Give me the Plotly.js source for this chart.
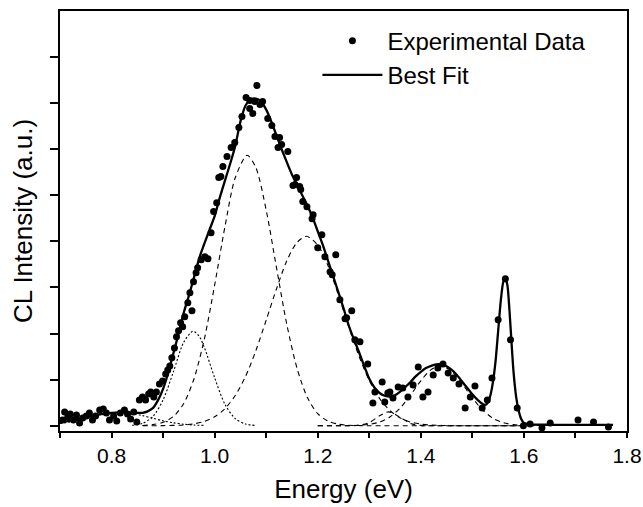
<!DOCTYPE html>
<html>
<head>
<meta charset="utf-8">
<script src="https://cdn.plot.ly/plotly-3.0.1.min.js"></script>
<style>html,body{margin:0;padding:0;background:#fff;}#chart{width:643px;height:507px;}</style>
</head>
<body>
<div id="chart"></div>
<script>
// Experimental data (energy in eV, CL intensity in arbitrary units)
const dataX = [0.705,0.709,0.715,0.720,0.726,0.732,0.738,0.744,0.751,0.757,0.763,0.769,0.777,0.784,0.790,0.796,0.804,0.810,0.817,0.825,0.831,0.837,0.843,0.849,0.854,0.860,0.866,0.872,0.876,0.882,0.887,0.893,0.899,0.905,0.909,0.913,0.917,0.922,0.926,0.930,0.934,0.938,0.942,0.948,0.952,0.956,0.959,0.964,0.967,0.974,0.981,0.987,0.993,0.998,1.004,1.008,1.012,1.016,1.024,1.032,1.039,1.047,1.053,1.061,1.068,1.068,1.074,1.078,1.082,1.088,1.093,1.103,1.111,1.117,1.123,1.126,1.130,1.142,1.152,1.156,1.159,1.165,1.167,1.171,1.179,1.189,1.191,1.200,1.208,1.214,1.224,1.228,1.235,1.243,1.253,1.256,1.266,1.272,1.282,1.297,1.307,1.311,1.325,1.330,1.336,1.340,1.346,1.356,1.365,1.375,1.385,1.395,1.404,1.414,1.424,1.433,1.443,1.453,1.463,1.474,1.486,1.496,1.505,1.519,1.529,1.538,1.550,1.564,1.574,1.587,1.599,1.612,1.635,1.651,1.705,1.735,1.764];
const dataY = [0.124,0.298,0.189,0.254,0.124,0.233,0.059,0.167,0.211,0.276,0.124,0.211,0.341,0.363,0.276,0.124,0.211,0.102,0.276,0.341,0.254,0.146,0.298,0.080,0.559,0.624,0.559,0.689,0.733,0.624,0.733,0.907,0.972,1.124,1.211,1.298,1.472,1.689,1.928,2.059,2.233,2.146,2.363,2.667,2.885,2.494,3.124,3.320,3.428,3.602,3.667,3.624,4.189,4.646,4.841,5.385,5.407,5.624,5.841,6.037,6.146,6.472,6.711,7.124,7.059,6.885,6.776,7.037,7.385,6.972,7.037,6.667,6.515,6.276,6.037,6.254,6.102,5.950,5.211,5.233,5.385,5.190,5.124,4.863,4.754,4.494,4.580,3.863,4.146,3.667,3.341,3.276,3.711,2.733,2.320,2.341,2.494,1.863,1.820,1.341,0.493,0.733,0.950,0.515,0.711,0.733,0.602,0.841,0.820,0.624,0.885,1.276,0.624,0.733,1.102,1.254,1.341,1.146,1.037,0.907,0.385,0.624,0.863,0.385,0.559,1.037,2.298,3.189,1.863,0.385,0.000,0.037,-0.050,0.059,0.124,0.080,-0.030];

// Best fit curve
const fitX = [0.70,0.72,0.74,0.76,0.78,0.80,0.82,0.84,0.86,0.87,0.88,0.89,0.90,0.91,0.92,0.93,0.94,0.95,0.96,0.97,0.98,0.99,1.00,1.01,1.02,1.03,1.04,1.05,1.06,1.07,1.08,1.09,1.10,1.11,1.12,1.13,1.14,1.15,1.16,1.17,1.18,1.19,1.20,1.21,1.22,1.23,1.24,1.25,1.26,1.27,1.28,1.29,1.30,1.31,1.32,1.33,1.34,1.35,1.36,1.37,1.38,1.39,1.40,1.41,1.42,1.43,1.44,1.45,1.46,1.47,1.48,1.49,1.50,1.51,1.52,1.525,1.53,1.535,1.54,1.545,1.55,1.555,1.56,1.564,1.568,1.572,1.576,1.58,1.585,1.59,1.595,1.60,1.61,1.65,1.70,1.773];
const fitY = [0.07,0.11,0.16,0.21,0.25,0.28,0.29,0.28,0.28,0.31,0.38,0.55,0.80,1.15,1.57,2.00,2.45,2.82,3.22,3.63,3.95,4.25,4.55,4.95,5.32,5.68,6.07,6.60,6.95,7.08,7.10,7.04,6.86,6.60,6.30,6.00,5.72,5.45,5.22,5.00,4.78,4.52,4.22,3.92,3.58,3.24,2.90,2.55,2.18,1.88,1.60,1.30,1.02,0.83,0.71,0.65,0.63,0.66,0.74,0.84,0.95,1.07,1.17,1.25,1.30,1.33,1.33,1.29,1.21,1.10,0.96,0.82,0.68,0.56,0.47,0.45,0.50,0.66,0.95,1.40,2.05,2.70,3.12,3.19,3.05,2.50,1.80,1.15,0.62,0.32,0.14,0.06,0.03,0.02,0.02,0.02];

// Fitted component peaks
const compAX = [0.70,0.72,0.74,0.76,0.78,0.80,0.815,0.84,0.86,0.88,0.90,0.92,0.94,0.96,0.98];
const compAY = [0.046,0.083,0.133,0.19,0.245,0.281,0.29,0.266,0.219,0.161,0.106,0.063,0.033,0.015,0.006];
const compBX = [0.84,0.86,0.88,0.90,0.92,0.94,0.958,0.97,0.98,1.00,1.02,1.04,1.06,1.08];
const compBY = [0.01,0.05,0.196,0.56,1.17,1.81,2.05,1.94,1.70,1.04,0.465,0.153,0.037,0.005];
const compCX = [0.86,0.88,0.90,0.92,0.94,0.96,0.98,1.00,1.02,1.04,1.063,1.08,1.10,1.12,1.14,1.16,1.18,1.20,1.22,1.24,1.26,1.30,1.40,1.50,1.60];
const compCY = [0.005,0.023,0.073,0.20,0.48,1.02,1.88,3.05,4.32,5.38,5.87,5.60,4.68,3.43,2.20,1.24,0.61,0.26,0.10,0.033,0.009,0,0,0,0];
const compDX = [0.86,0.90,0.94,0.96,0.98,1.00,1.02,1.04,1.06,1.08,1.10,1.12,1.14,1.16,1.178,1.20,1.22,1.24,1.26,1.28,1.30,1.32,1.34,1.36,1.38,1.40,1.42,1.46,1.50,1.55,1.60];
const compDY = [0,0.002,0.017,0.042,0.094,0.194,0.37,0.655,1.07,1.63,2.29,2.97,3.58,3.98,4.11,3.92,3.47,2.84,2.15,1.51,0.98,0.59,0.33,0.168,0.080,0.035,0.014,0.001,0,0,0];
const compEX = [1.20,1.26,1.28,1.30,1.32,1.338,1.36,1.38,1.40,1.42,1.50,1.60];
const compEY = [0,0.001,0.009,0.068,0.215,0.30,0.182,0.049,0.006,0,0,0];
const compFX = [1.20,1.26,1.30,1.32,1.34,1.36,1.38,1.40,1.42,1.438,1.46,1.48,1.50,1.52,1.54,1.56,1.58,1.60,1.62];
const compFY = [0,0.002,0.029,0.080,0.190,0.385,0.663,0.974,1.218,1.30,1.18,0.914,0.603,0.339,0.162,0.066,0.023,0.005,0];

const xTickVals = [0.7,0.8,0.9,1.0,1.1,1.2,1.3,1.4,1.5,1.6,1.7,1.8];
const xTickText = ['','0.8','','1.0','','1.2','','1.4','','1.6','','1.8'];
const yTickVals = [0,1,2,3,4,5,6,7,8];

const FONT = 'Liberation Sans, Arial, Helvetica, sans-serif';

function comp(x, y, dash) {
  return {x: x, y: y, type: 'scatter', mode: 'lines', showlegend: false, hoverinfo: 'skip',
    line: {color: '#000', width: 1.1, dash: dash, shape: 'spline', smoothing: 0.8}};
}

const traces = [
  comp(compAX, compAY, '2px,2px'),
  comp(compBX, compBY, '2px,2px'),
  comp(compCX, compCY, '5px,4px'),
  comp(compDX, compDY, '5px,4px'),
  comp(compEX, compEY, '5px,4px'),
  comp(compFX, compFY, '5px,4px'),
  {x: fitX, y: fitY, type: 'scatter', mode: 'lines', name: 'Best Fit', legendrank: 2,
   line: {color: '#000', width: 2.3, shape: 'spline', smoothing: 0.6}},
  {x: dataX, y: dataY, type: 'scatter', mode: 'markers', name: 'Experimental Data', legendrank: 1,
   marker: {color: '#000', size: 7}, cliponaxis: true}
];

const layout = {
  width: 643, height: 507,
  margin: {l: 60, r: 16, t: 11, b: 76},
  paper_bgcolor: '#fff', plot_bgcolor: '#fff',
  font: {family: FONT, color: '#000'},
  showlegend: true,
  legend: {x: 0.454, y: 0.982, xanchor: 'left', yanchor: 'top', bgcolor: 'rgba(0,0,0,0)',
    font: {family: FONT, size: 24, color: '#000'}, itemwidth: 60, tracegroupgap: 0},
  xaxis: {
    range: [0.7, 1.8], tickmode: 'array', tickvals: xTickVals, ticktext: xTickText,
    ticks: 'outside', ticklen: 5, tickwidth: 2, tickcolor: '#000',
    showline: true, linewidth: 2, linecolor: '#000', mirror: true,
    showgrid: false, zeroline: false,
    tickfont: {family: FONT, size: 21, color: '#000'},
    title: {text: 'Energy (eV)', font: {family: FONT, size: 26, color: '#000'}, standoff: 14}
  },
  yaxis: {
    range: [-0.115, 9.0], tickmode: 'array', tickvals: yTickVals,
    showticklabels: false,
    ticks: 'outside', ticklen: 8, tickwidth: 2, tickcolor: '#000',
    showline: true, linewidth: 2, linecolor: '#000', mirror: true,
    showgrid: false, zeroline: false,
    title: {text: 'CL Intensity (a.u.)', font: {family: FONT, size: 26, color: '#000'}, standoff: 10}
  }
};

Plotly.newPlot('chart', traces, layout, {displayModeBar: false, staticPlot: true});
</script>
</body>
</html>
